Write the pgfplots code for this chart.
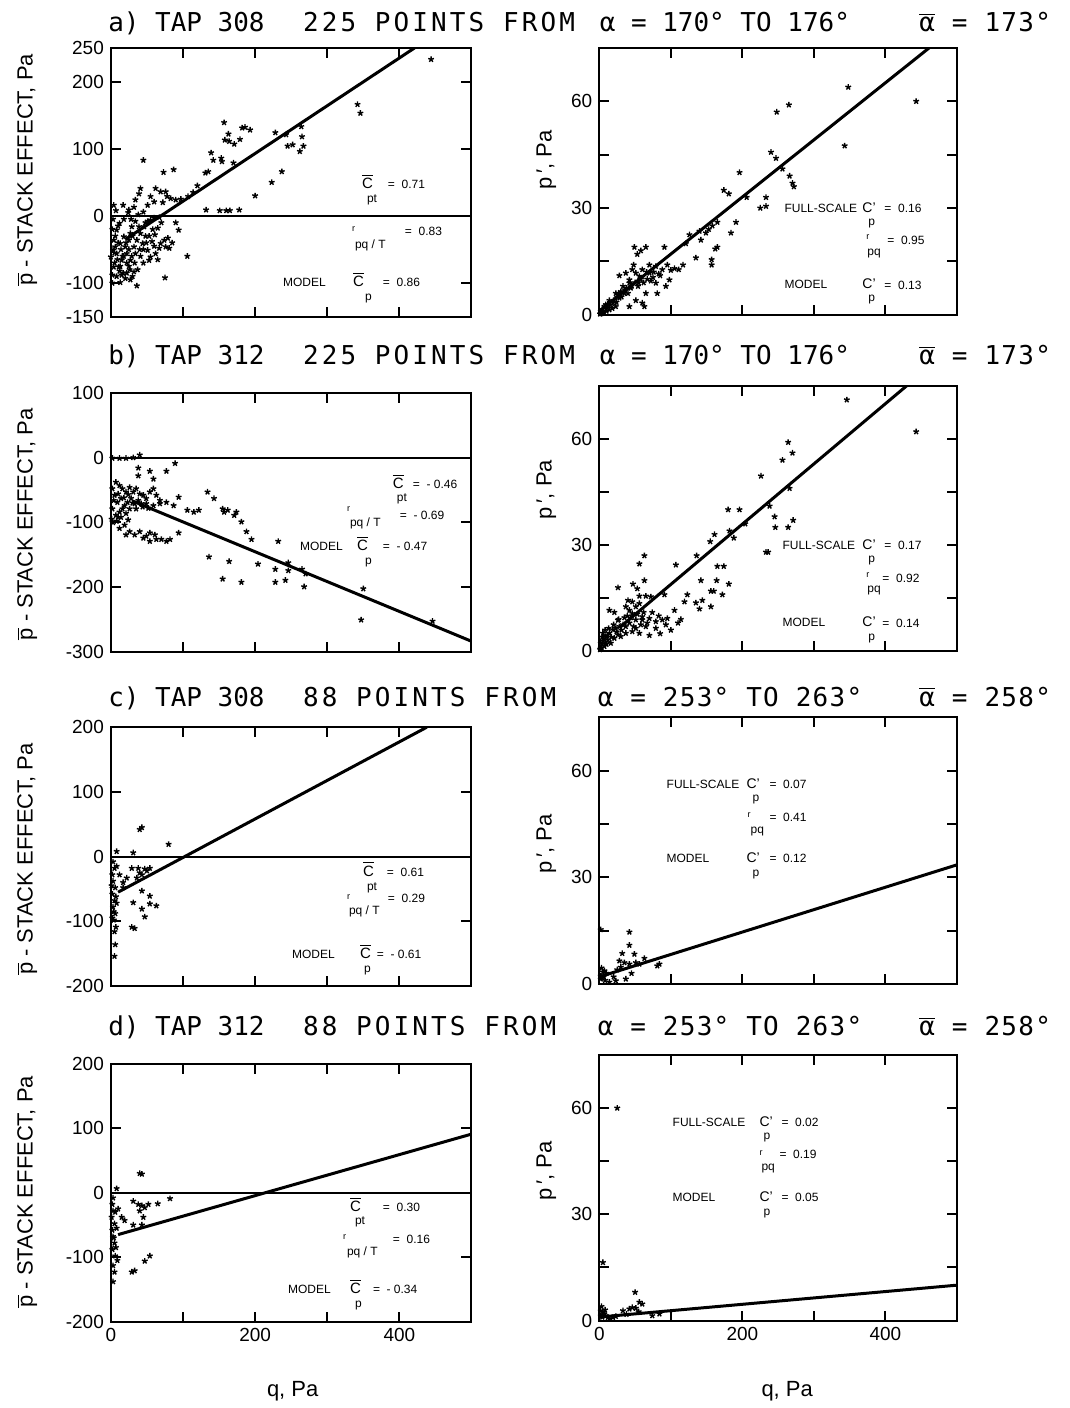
\documentclass[border=0pt]{standalone}
\usepackage{fontspec}
\setmainfont{Liberation Sans}
\setsansfont{Liberation Sans}
\newfontfamily\titlefont{DejaVu Sans Mono}
\newfontfamily\titlefontA[LetterSpace=5]{DejaVu Sans Mono}
\newfontfamily\titlefontB[LetterSpace=12]{DejaVu Sans Mono}
\usepackage{pgfplots}
\pgfplotsset{compat=1.18}

\def\px{0.5pt}
\newcommand\annfont{\sffamily\fontsize{6}{7}\selectfont}
\newcommand\tinyfont{\sffamily\fontsize{4.5}{5}\selectfont}
\newcommand\T[4][]{\node[anchor=base west,inner sep=0pt,font=\annfont,#1] at (#2*\px,-#3*\px) {#4};}
\newcommand\Cb{{\fontsize{7.5}{8}\selectfont\ensuremath{\overline{\mbox{C}}}}}
\newcommand\Cq{{\fontsize{7}{8}\selectfont C’}}
\newcommand\ttl[4][\titlefont]{\node[anchor=base west,inner sep=0pt,font=#1\fontsize{13}{13}\selectfont] at (#2*\px,-#3*\px) {#4};}
\newcommand\abar{\ensuremath{\overline{\mbox{α}}}}

\pgfplotsset{
  panel/.style={scale only axis, anchor=south west,
    xmin=0, xmax=500, xtick={0,100,200,300,400,500}, xticklabels={},
    xtick pos=both, ytick pos=both, xticklabel pos=lower, yticklabel pos=left,
    tick align=inside, major tick length=5pt,
    axis line style={line width=1pt},
    major tick style={line width=1pt, black},
    tick label style={font=\sffamily\fontsize{9.5}{9.5}\selectfont}},
  L/.style={panel, width=180.5pt},
  R/.style={panel, width=179pt, ymin=0, ymax=75,
    ytick={0,15,30,45,60,75}, yticklabels={0,,30,,60,}},
  pts/.style={only marks, mark=star, mark size=1.5pt, mark options={line width=0.7pt}, black},
  fit/.style={black, line width=1.5pt, no marks},
  zero/.style={black, line width=1pt, no marks},
}

\begin{document}
\begin{tikzpicture}
\path (0,0) rectangle (1071*\px,-1408*\px);

% ---------- titles
\ttl{108}{32}{a) TAP 308}
\ttl[\titlefontB]{303}{32}{225 POINTS FROM}
\ttl{600}{32}{α = 170° TO 176°}
\ttl[\titlefontA]{920}{32}{\abar\ = 173°}
\ttl{108}{365}{b) TAP 312}
\ttl[\titlefontB]{303}{365}{225 POINTS FROM}
\ttl{600}{365}{α = 170° TO 176°}
\ttl[\titlefontA]{920}{365}{\abar\ = 173°}
\ttl{108}{707}{c) TAP 308}
\ttl[\titlefontB]{303}{707}{88 POINTS FROM}
\ttl[\titlefontA]{598}{707}{α = 253° TO 263°}
\ttl[\titlefontA]{920}{707}{\abar\ = 258°}
\ttl{108}{1037}{d) TAP 312}
\ttl[\titlefontB]{303}{1037}{88 POINTS FROM}
\ttl[\titlefontA]{598}{1037}{α = 253° TO 263°}
\ttl[\titlefontA]{920}{1037}{\abar\ = 258°}

% ---------- axis titles
\foreach \yy in {170,525,860,1193}{
  \node[rotate=90,font=\sffamily\fontsize{11}{11}\selectfont] at (27*\px,-\yy*\px)
    {\ensuremath{\overline{\mbox{p}}} - STACK EFFECT, Pa};}
\foreach \yy in {160,490,845,1172}{
  \node[rotate=90,font=\sffamily\fontsize{11}{11}\selectfont] at (547*\px,-\yy*\px)
    {p\,′, Pa};}
\node[font=\sffamily\fontsize{11}{11}\selectfont] at (293*\px,-1393*\px) {q, Pa};
\node[font=\sffamily\fontsize{11}{11}\selectfont] at (788*\px,-1393*\px) {q, Pa};

% ---------- a) left
\begin{axis}[L, at={(111*\px,-317*\px)}, height=134.5pt,
  ymin=-150, ymax=250, ytick={-150,-100,0,100,200,250},
  yticklabels={-150,-100,0,100,200,250}]
\addplot[zero] coordinates {(0,0) (500,0)};
\addplot[fit] coordinates {(20,-35) (421,250)};
\addplot[pts] coordinates {
(444,233)(342,166)(346,153)(157,139)(182,131)(186,132)(193,128)(163,122)(158,113)(164,111)
(171,107)(179,114)(228,124)(243,121)(264,133)(265,118)(245,104)(252,106)(267,104)(262,96)
(139,94)(142,83)(153,86)(154,81)(170,79)(45,83)(73,65)(87,69)(131,64)(135,66)(237,66)
(223,50)(200,30)(120,45)(114,35)(107,29)(97,25)(90,24)(83,26)(76,36)(69,36)(62,41)(41,41)
(39,33)(34,24)(55,29)(60,21)(51,16)(72,20)(78,29)(4,16)(17,16)(25,9)(32,13)(132,9)(151,8)
(160,8)(165,8)(178,9)
(4,-36)(6,-46)(8,-56)(3,-51)(13,-41)(18,-31)(20,-46)(22,-56)(25,-36)(27,-26)(29,-16)(34,-8)
(39,-16)(41,-26)(46,-16)(51,-8)(55,-6)(60,-3)(67,-2)(36,-36)(32,-46)(15,-66)(11,-76)(27,-66)
(34,-56)(44,-41)(8,-21)(12,-11)(51,-51)(55,-61)(62,-56)(67,-48)(69,-41)(74,-36)(79,-33)
(76,-46)(81,-48)(53,-66)(90,-10)(94,-21)(106,-60)(75,-92)(2,-88)(8,-90)(15,-88)(20,-93)
(27,-95)(36,-104)(22,-85)(32,-83)(2,-100)(13,-99)(4,-76)(0,-61)
(24,5)(38,2)(45,6)(18,-5)(10,-15)(30,-30)(40,-50)(48,-30)(58,-20)(16,-60)(5,-70)(25,-75)
(12,-82)(45,-70)(60,-45)(65,-65)(85,-40)
(2,-20)(6,-30)(10,-40)(14,-50)(18,-60)(22,-70)(26,-80)(30,-90)(5,-55)(9,-65)(13,-75)(17,-85)
(21,-40)(25,-50)(29,-60)(33,-70)(37,-80)(41,-60)(45,-50)(49,-40)(53,-30)(57,-38)(61,-28)
(65,-18)(70,-10)(3,-5)(7,8)(28,-5)(48,-10)};
\end{axis}
\T{362}{189}{\Cb} \T{367}{203}{pt} \T{388}{189}{= \ 0.71}
\T[font=\tinyfont]{352}{232}{r} \T{355}{249}{pq / T} \T{405}{236}{= \ 0.83}
\T{283}{287}{MODEL} \T{353}{287}{\Cb} \T{365}{301}{p} \T{383}{287}{= \ 0.86}

% ---------- a) right
\begin{axis}[R, at={(600*\px,-315*\px)}, height=133.5pt]
\addplot[fit] coordinates {(0,1) (461,75)};
\addplot[pts] coordinates {
(348,64)(443,60)(248,57)(265,59)(343,47.5)(240,45.7)(247,44)(256,41)(266,39)(270,37)(272,36)
(196,40)(174,35)(181,34)(206,33)(233,33)(225,30)(233,30.5)(191,26)(184,23)(165,26)(158,25)
(153,24)(149,23)(162,18.5)(157,15.5)(157,14)(165,19)(140,23.5)(142,21)(126,22.5)(121,20)
(135,16)(117,14)(111,12.7)(91,19)(65,19)(58,18)(49,19)(53,17)(48,14)(88,12.7)(79,13.6)
(70,14)(60,12.7)(51,11.7)(42,9.8)(33,8)(23,6)(14,4)(7,2.3)(2,1)(98,9.8)(79,8.9)(81,6)(93,8)
(65,6)(51,4)(60,3.3)(42,2.3)(28,11)(23,2.3)(14,1.4)(5,0.5)(63,2.3)(70,11.7)(42,8.9)(37,11.7)
(56,10.8)(46,12.7)(35,6)(28,4.7)(19,3.3)(9,2.8)(3,0.3)(10,1)(18,1.8)(12,3)(25,5)(30,6.5)
(38,7.5)(45,8)(55,9)(75,10.5)(85,11)(100,12.5)(105,13)(95,14)(66,12)
(1,0.2)(4,1.5)(6,0.8)(11,2)(15,2.7)(20,4)(24,3.5)(27,6)(31,5)(36,7)(40,6)(44,7.5)(50,9)
(54,8)(58,10)(62,9)(67,10)(72,9.5)(76,12)(83,11.5)};
\end{axis}
\T{785}{213}{FULL-SCALE} \T{863}{213}{\Cq} \T{869}{226}{p} \T{885}{213}{= \ 0.16}
\T[font=\tinyfont]{867}{240}{r} \T{868}{256}{pq} \T{888}{245}{= \ 0.95}
\T{785}{289}{MODEL} \T{863}{289}{\Cq} \T{869}{302}{p} \T{885}{290}{= \ 0.13}

% ---------- b) left
\begin{axis}[L, at={(111*\px,-653*\px)}, height=130pt,
  ymin=-300, ymax=100, ytick={-300,-200,-100,0,100},
  yticklabels={-300,-200,-100,0,100}]
\addplot[zero] coordinates {(0,0) (500,0)};
\addplot[fit] coordinates {(30,-67) (500,-283)};
\addplot[pts] coordinates {
(2,-1)(12,-1)(21,-1)(31,0)(40,4)(38,-16)(54,-21)(77,-21)(89,-9)(38,-28)(59,-33)
(2,-48)(7,-38)(12,-43)(16,-48)(21,-53)(26,-46)(31,-53)(35,-48)(40,-56)(45,-58)(49,-63)
(54,-53)(59,-48)(63,-58)(68,-66)(5,-58)(9,-69)(14,-63)(19,-74)(23,-69)(28,-63)(33,-71)
(2,-79)(7,-89)(12,-84)(16,-79)(21,-86)(26,-79)(35,-79)(42,-71)(49,-71)(59,-74)(68,-71)
(77,-69)(87,-74)(94,-61)(106,-81)(115,-84)(122,-81)
(12,-109)(19,-104)(26,-114)(33,-119)(45,-124)(49,-121)(54,-116)(61,-119)(63,-126)(70,-126)
(77,-129)(82,-126)(94,-116)(21,-119)(40,-114)(54,-129)(1,-95)(3,-100)(8,-98)(10,-92)
(134,-53)(143,-63)(155,-79)(157,-84)(162,-81)(171,-89)(174,-84)(181,-99)(188,-114)(195,-126)
(232,-129)(136,-153)(164,-160)(155,-187)(181,-192)(204,-164)(228,-172)(228,-192)(242,-189)
(246,-162)(246,-174)(265,-172)(268,-199)(270,-179)(347,-250)(446,-252)(350,-202)
(4,-66)(10,-56)(18,-62)(24,-57)(30,-70)(38,-66)(44,-76)(52,-78)(14,-92)(24,-96)};
\end{axis}
\T{393}{489}{\Cb} \T{397}{502}{pt} \T{413}{489}{= \ - 0.46}
\T[font=\tinyfont]{347}{512}{r} \T{350}{527}{pq / T} \T{400}{520}{= \ - 0.69}
\T{300}{551}{MODEL} \T{357}{551}{\Cb} \T{365}{565}{p} \T{383}{551}{= \ - 0.47}

% ---------- b) right
\begin{axis}[R, at={(600*\px,-652*\px)}, height=133pt]
\addplot[fit] coordinates {(30,7) (430,75)};
\addplot[pts] coordinates {
(346,71)(443,62)(264,59)(270,56)(256,54)(266,46)(226,49.5)(238,41)(245,38)(246,35)(264,35)
(271,37)(233,28)(236,28)(180,40)(196,40)(204,36)(161,33)(155,31)(182,34)(188,32)(136,27)
(107,24.4)(165,24)(174,24)(142,20)(164,20)(181,19)(156,17)(160,17)(172,16)(123,16)(119,14)
(135,13.7)(144,14.4)(140,12)(156,12.6)(105,11.6)(114,9)
(56,24.7)(63,27)(26,18)(47,19)(63,20)(53,17.7)(56,15.6)(65,15.6)(72,15.4)(91,16)
(14,11.6)(21,11)(26,8.8)(37,12.6)(42,11.6)(46,10.7)(51,12.6)(60,9.8)(40,14.4)(46,14)(56,13.5)
(5,5.1)(9,4.2)(14,5.1)(19,6.1)(23,6.5)(28,7)(33,7.5)(37,7)(2,2.3)(7,1.4)(12,3.3)(16,2.3)
(21,3.7)(26,4.7)(30,4.2)(42,8)(51,8.9)(60,8.9)(70,9.3)(79,8.4)(88,8.9)(95,9.3)(51,6.5)(65,7)
(79,6.5)(93,7.5)(56,5.1)(37,5.1)(46,5.6)(1,0.5)(3,1)(5,3)(10,2)(4,4)(8,6)(70,4.5)(85,5)
(100,6)(110,8)
(2,1)(4,2)(6,3.5)(9,2.5)(11,4.5)(13,6.5)(17,4)(20,7.5)(24,5.5)(27,9)(31,6)(35,9.5)(39,10)
(44,9.5)(48,7)(53,10.5)(58,7.5)(62,11)(67,8)(74,11)(83,10)};
\end{axis}
\T{783}{550}{FULL-SCALE} \T{863}{550}{\Cq} \T{869}{563}{p} \T{885}{550}{= \ 0.17}
\T[font=\tinyfont]{867}{578}{r} \T{868}{593}{pq} \T{883}{583}{= \ 0.92}
\T{783}{627}{MODEL} \T{863}{627}{\Cq} \T{869}{641}{p} \T{883}{628}{= \ 0.14}

% ---------- c) left
\begin{axis}[L, at={(111*\px,-987*\px)}, height=129.5pt,
  ymin=-200, ymax=200, ytick={-200,-100,0,100,200},
  yticklabels={-200,-100,0,100,200}]
\addplot[zero] coordinates {(0,0) (500,0)};
\addplot[fit] coordinates {(10,-55) (438,200)};
\addplot[pts] coordinates {
(40,42)(43,45)(80,19)(8,8)(31,6)
(3,-8)(5,-18)(2,-28)(3,-38)(6,-48)(2,-58)(5,-68)(3,-78)(6,-88)(4,-98)(7,-109)(5,-116)
(6,-136)(5,-154)(8,-15)(1,-45)(7,-62)(4,-85)(2,-95)(8,-72)
(29,-18)(38,-18)(47,-19)(54,-18)(43,-28)(36,-33)(22,-33)(17,-48)(43,-53)(54,-61)(31,-71)
(54,-73)(63,-76)(43,-81)(47,-93)(29,-109)(33,-111)(12,-28)(17,-40)(40,-25)(50,-22)};
\end{axis}
\T{363}{877}{\Cb} \T{367}{891}{pt} \T{387}{877}{= \ 0.61}
\T[font=\tinyfont]{347}{900}{r} \T{349}{915}{pq / T} \T{388}{903}{= \ 0.29}
\T{292}{960}{MODEL} \T{360}{960}{\Cb} \T{364}{974}{p} \T{377}{960}{= \ - 0.61}

% ---------- c) right
\begin{axis}[R, at={(600*\px,-985*\px)}, height=133.5pt]
\addplot[fit] coordinates {(0,2) (500,33.5)};
\addplot[pts] coordinates {
(2,15.3)(42,14.6)(42,10.9)(32,8.6)(49,8.4)(63,7.2)(28,6.5)(35,6)(42,5.6)(51,6)(56,5.6)
(81,5.1)(84,5.6)(2,1.4)(5,3.3)(7,3.7)(2,2.3)(37,1.4)(30,4.7)(14,0.5)(23,0.9)(3,4.5)(6,2)
(10,3)(8,1)(25,4)(45,3)(20,2)};
\end{axis}
\T{667}{789}{FULL-SCALE} \T{747}{789}{\Cq} \T{753}{802}{p} \T{770}{789}{= \ 0.07}
\T[font=\tinyfont]{748}{818}{r} \T{751}{834}{pq} \T{770}{822}{= \ 0.41}
\T{667}{863}{MODEL} \T{747}{863}{\Cq} \T{753}{877}{p} \T{770}{863}{= \ 0.12}

% ---------- d) left
\begin{axis}[L, at={(111*\px,-1323*\px)}, height=129pt,
  ymin=-200, ymax=200, ytick={-200,-100,0,100,200},
  yticklabels={-200,-100,0,100,200}, xticklabels={0,,200,,400,}]
\addplot[zero] coordinates {(0,0) (500,0)};
\addplot[fit] coordinates {(10,-65) (500,91)};
\addplot[pts] coordinates {
(40,30)(43,29)(8,6.5)
(3,-8)(2,-18)(3,-28)(1,-38)(5,-48)(2,-58)(3,-68)(5,-78)(2,-88)(6,-98)(3,-113)(5,-123)(3,-138)
(31,-13)(38,-18)(43,-20)(47,-23)(52,-18)(40,-28)(45,-38)(31,-50)(43,-50)(65,-17)(82,-9)
(54,-98)(47,-106)(33,-121)(29,-123)(10,-25)(15,-38)(19,-43)(6,-30)(8,-55)(4,-70)(7,-85)(9,-105)};
\end{axis}
\T{350}{1213}{\Cb} \T{355}{1226}{pt} \T{383}{1213}{= \ 0.30}
\T[font=\tinyfont]{343}{1241}{r} \T{347}{1257}{pq / T} \T{393}{1245}{= \ 0.16}
\T{288}{1295}{MODEL} \T{350}{1295}{\Cb} \T{355}{1309}{p} \T{373}{1295}{= \ - 0.34}

% ---------- d) right
\begin{axis}[R, at={(600*\px,-1322*\px)}, height=133pt, xticklabels={0,,200,,400,}]
\addplot[fit] coordinates {(0,1) (500,10)};
\addplot[pts] coordinates {
(5,16.4)(50,8)(56,5.2)(60,4.7)(33,2.8)(42,3.3)(46,3.7)(51,3.5)(2,2.8)(5,2.3)(7,1.9)(9,1.4)
(2,1.4)(12,0.9)(19,0.9)(23,1.2)(74,1.4)(84,1.9)(14,0.5)(25,60)(3,4)(4,1)(8,3)(38,1.8)(55,2.5)};
\end{axis}
\T{673}{1128}{FULL-SCALE} \T{760}{1128}{\Cq} \T{764}{1141}{p} \T{782}{1128}{= \ 0.02}
\T[font=\tinyfont]{760}{1157}{r} \T{762}{1172}{pq} \T{780}{1160}{= \ 0.19}
\T{673}{1203}{MODEL} \T{760}{1203}{\Cq} \T{764}{1217}{p} \T{782}{1203}{= \ 0.05}
\end{tikzpicture}
\end{document}
